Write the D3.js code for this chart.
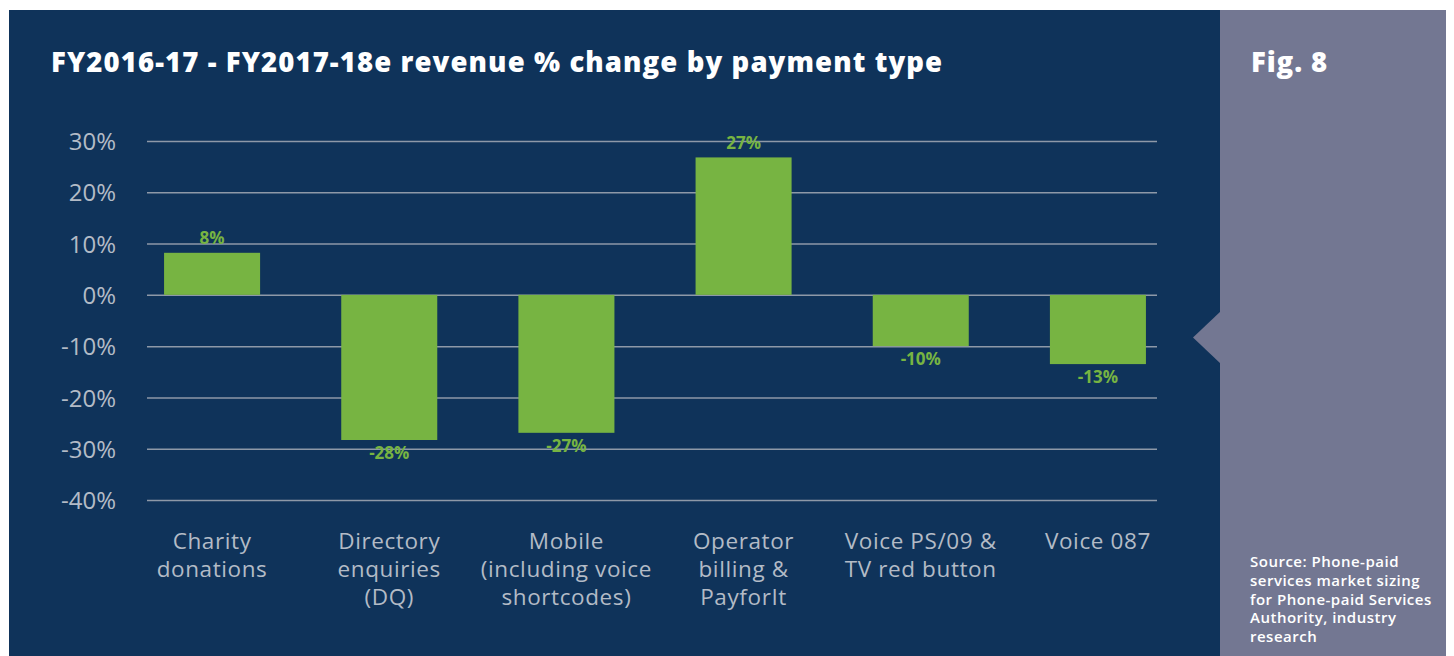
<!DOCTYPE html>
<html>
<head>
<meta charset="utf-8">
<script src="https://cdn.jsdelivr.net/npm/d3@7"></script>
<style>
  html, body { margin: 0; padding: 0; background: #ffffff; }
  svg { display: block; }
  text { font-family: "Open Sans", "Noto Sans", sans-serif; }
</style>
</head>
<body>
<svg id="chart" width="1454" height="656"></svg>
<script>
const categories = [
  "Charity\ndonations",
  "Directory\nenquiries\n(DQ)",
  "Mobile\n(including voice\nshortcodes)",
  "Operator\nbilling &\nPayforIt",
  "Voice PS/09 &\nTV red button",
  "Voice 087"
];
const values = [8.2, -28.3, -26.9, 26.8, -10.0, -13.5];
const valueLabels = ["8%", "-28%", "-27%", "27%", "-10%", "-13%"];
const yTicks = [-40, -30, -20, -10, 0, 10, 20, 30];
const title = "FY2016-17 - FY2017-18e revenue % change by payment type";
const figLabel = "Fig. 8";
const sourceLines = ["Source: Phone-paid", "services market sizing", "for Phone-paid Services", "Authority, industry", "research"];

const svg = d3.select("#chart");
const navy = "#0f335a";
const sidePanel = "#737792";
const green = "#77b442";
const gridColor = "#8e99a8";
const textGray = "#b3bbc6";

// panels
svg.append("rect").attr("x", 9).attr("y", 10).attr("width", 1211).attr("height", 646).attr("fill", navy);
svg.append("rect").attr("x", 1220).attr("y", 10).attr("width", 226).attr("height", 646).attr("fill", sidePanel);
svg.append("path").attr("d", "M1221,311 L1193,337.5 L1221,364 Z").attr("fill", sidePanel);

// title
svg.append("text").attr("x", 51).attr("y", 72).attr("fill", "#ffffff")
  .attr("font-size", 27.5).attr("font-weight", 800).attr("letter-spacing", 1.1).text(title);
svg.append("text").attr("x", 1251).attr("y", 72).attr("fill", "#ffffff")
  .attr("font-size", 27.5).attr("font-weight", 800).attr("letter-spacing", 0.9).text(figLabel);

// source
svg.append("g").selectAll("text").data(sourceLines).join("text")
  .attr("x", 1250).attr("y", (d, i) => 567 + i * 18.8)
  .attr("fill", "#ffffff").attr("font-size", 15).attr("font-weight", 600)
  .attr("letter-spacing", 0.5)
  .text(d => d);

// scales
const y = d3.scaleLinear().domain([-40, 30]).range([500, 141]);
const x = d3.scaleBand().domain(categories).range([123.5, 1186.5])
  .paddingInner(0.458).paddingOuter(0.229);

// gridlines via axis
const yAxis = d3.axisLeft(y).tickValues(yTicks).tickSize(-(1157 - 147)).tickFormat(d => d + "%").tickPadding(31);
const gAxis = svg.append("g").attr("transform", "translate(147,0)").call(yAxis);
gAxis.select(".domain").remove();
gAxis.selectAll(".tick line").attr("stroke", gridColor).attr("stroke-width", 1.5);
gAxis.selectAll(".tick text").attr("fill", textGray).attr("font-size", 24)
  .attr("font-family", "'Open Sans', sans-serif").attr("dy", "0.36em");

// bars
svg.append("g").selectAll("rect").data(categories).join("rect")
  .attr("x", d => x(d))
  .attr("width", x.bandwidth())
  .attr("y", (d, i) => y(Math.max(0, values[i])))
  .attr("height", (d, i) => Math.abs(y(values[i]) - y(0)))
  .attr("fill", green);

// value labels
svg.append("g").selectAll("text").data(categories).join("text")
  .attr("x", d => x(d) + x.bandwidth() / 2)
  .attr("y", (d, i) => values[i] >= 0 ? y(values[i]) - 15 : y(values[i]) + 13)
  .attr("dy", "0.36em")
  .attr("text-anchor", "middle")
  .attr("fill", green).attr("font-size", 17).attr("font-weight", 700)
  .text((d, i) => valueLabels[i]);

// category labels
const xAxisG = svg.append("g");
categories.forEach(c => {
  const cx = x(c) + x.bandwidth() / 2;
  c.split("\n").forEach((line, i) => {
    xAxisG.append("text")
      .attr("x", cx)
      .attr("y", 549 + i * 28)
      .attr("text-anchor", "middle")
      .attr("fill", textGray).attr("font-size", 22.5)
      .attr("letter-spacing", 0.6)
      .text(line);
  });
});
</script>
</body>
</html>
